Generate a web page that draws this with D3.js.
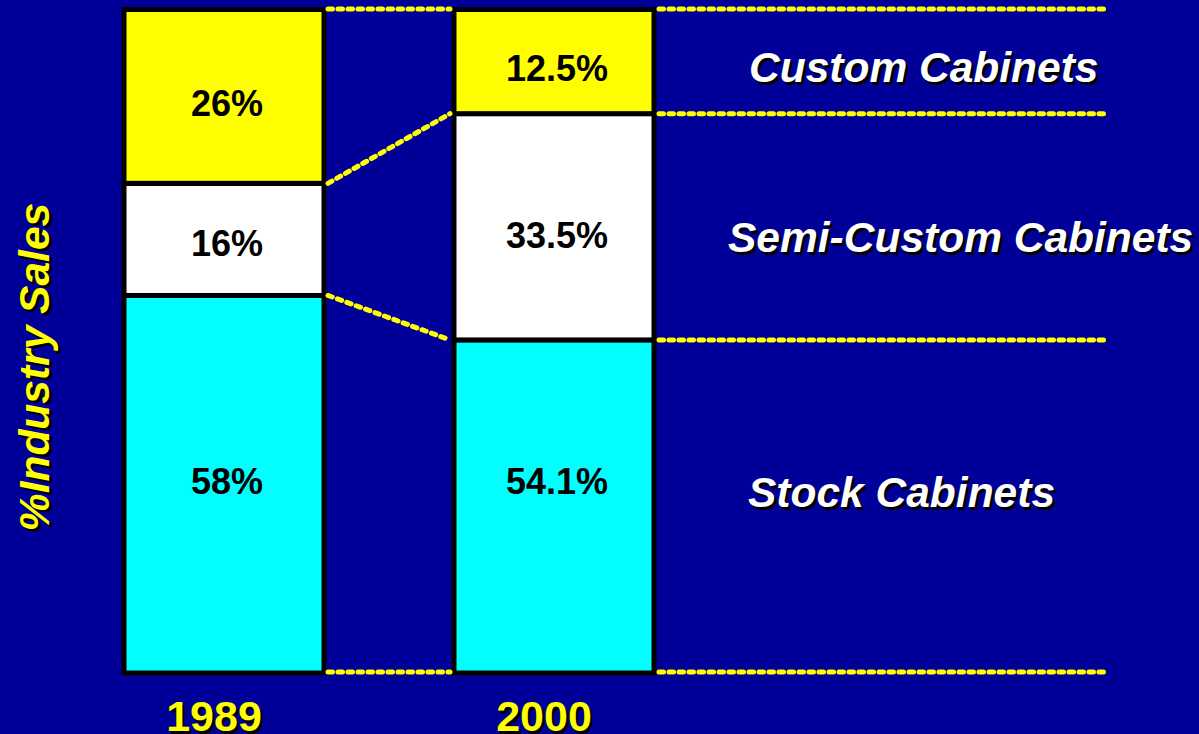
<!DOCTYPE html>
<html>
<head>
<meta charset="utf-8">
<script src="https://cdn.jsdelivr.net/npm/d3@7"></script>
<style>
  html, body { margin: 0; padding: 0; background: #000099; }
  svg { display: block; font-family: "Liberation Sans", Arial, sans-serif; }
</style>
</head>
<body>
<div id="chart-area"></div>
<script>
const chartWidth = 1199
const chartHeight = 734

// data (segment shares as drawn, bottom -> top)
const years = ["1989", "2000"]
const segments = ["Stock Cabinets", "Semi-Custom Cabinets", "Custom Cabinets"]
const shares1989 = [56.9, 16.9, 26.2]
const shares2000 = [50.2, 34.1, 15.7]
const labels1989 = ["58%", "16%", "26%"]
const labels2000 = ["54.1%", "33.5%", "12.5%"]
const segColors = ["#00ffff", "#ffffff", "#ffff00"]
const yTitle = "%Industry Sales"

const bg = "#000099"
const lineEndX = 1106
// where the right-hand names sit (left edge, baseline)
const segLabelPos = {
    "Stock Cabinets": [748, 507],
    "Semi-Custom Cabinets": [728, 252],
    "Custom Cabinets": [749, 82]
}
// nudges for the % labels off the segment middle (px)
const pctShift = {"1989": [-3, 4, 7], "2000": [-25, 8, 6]}

const svg = d3.select("#chart-area").append("svg")
    .attr("width", chartWidth)
    .attr("height", chartHeight)

svg.append("rect")
    .attr("width", chartWidth)
    .attr("height", chartHeight)
    .attr("fill", bg)

const x = d3.scaleBand()
    .domain(years)
    .range([124, 654])
    .paddingInner(130 / 330)

const y = d3.scaleLinear()
    .domain([0, 100])
    .range([673, 9.5])

// build stacks
const sharesByYear = {"1989": shares1989, "2000": shares2000}
const labelsByYear = {"1989": labels1989, "2000": labels2000}
const stacks = {}
years.forEach(yr => {
    let acc = 0
    stacks[yr] = sharesByYear[yr].map((v, i) => {
        const d = {year: yr, seg: segments[i], y0: acc, y1: acc + v, label: labelsByYear[yr][i],
                   color: segColors[i], shift: pctShift[yr][i]}
        acc += v
        return d
    })
})
const allSegs = years.flatMap(yr => stacks[yr])

// bars
svg.append("g").selectAll("rect")
    .data(allSegs)
    .join("rect")
    .attr("x", d => x(d.year))
    .attr("y", d => y(d.y1))
    .attr("width", x.bandwidth())
    .attr("height", d => y(d.y0) - y(d.y1))
    .attr("fill", d => d.color)
    .attr("stroke", "#000")
    .attr("stroke-width", 5)

// percentage labels
svg.append("g").selectAll("text")
    .data(allSegs)
    .join("text")
    .attr("x", d => x(d.year) + x.bandwidth() / 2 + 3)
    .attr("y", d => (y(d.y0) + y(d.y1)) / 2 + d.shift)
    .attr("dy", "0.36em")
    .attr("text-anchor", "middle")
    .attr("font-size", "36px")
    .attr("font-weight", "bold")
    .attr("fill", "#000")
    .text(d => d.label)

// dotted connector lines
const bounds = yr => [0].concat(stacks[yr].map(d => d.y1))
const b1 = bounds("1989"), b2 = bounds("2000")
const x1r = x("1989") + x.bandwidth() + 4
const x2l = x("2000") - 4
const x2r = x("2000") + x.bandwidth() + 5
const links = []
b1.forEach((v, i) => {
    const off = (i === b1.length - 1) ? -0.5 : (i === 0 ? -1 : 0)
    links.push({xa: x1r, ya: y(v) + off, xb: x2l, yb: y(b2[i]) + off})
    links.push({xa: x2r, ya: y(b2[i]) + off, xb: lineEndX, yb: y(b2[i]) + off})
})
svg.append("g").selectAll("line")
    .data(links)
    .join("line")
    .attr("x1", d => d.xa)
    .attr("y1", d => d.ya)
    .attr("x2", d => d.xb)
    .attr("y2", d => d.yb)
    .attr("stroke", "#ffff00")
    .attr("stroke-width", 5)
    .attr("stroke-linecap", "round")
    .attr("stroke-dasharray", "4.5,5.5")

// text with drop shadow
function shadowText(g, px, py, txt, opts) {
    const grp = g.append("g").attr("transform", `translate(${px},${py})${opts.rotate ? " rotate(" + opts.rotate + ")" : ""}`)
    const dx = opts.rotate ? -2.5 : 2.5
    const dy = 2.5
    grp.append("text")
        .attr("x", dx)
        .attr("y", dy)
        .attr("text-anchor", opts.anchor || "start")
        .attr("font-size", opts.size)
        .attr("font-weight", "bold")
        .attr("font-style", opts.italic ? "italic" : "normal")
        .attr("fill", "#000")
        .text(txt)
    grp.append("text")
        .attr("text-anchor", opts.anchor || "start")
        .attr("font-size", opts.size)
        .attr("font-weight", "bold")
        .attr("font-style", opts.italic ? "italic" : "normal")
        .attr("fill", opts.fill)
        .text(txt)
}

// segment names on the right
segments.forEach(s => {
    const p = segLabelPos[s]
    shadowText(svg, p[0], p[1], s, {size: "42.5px", italic: true, fill: "#fff"})
})

// year labels
years.forEach(yr => {
    shadowText(svg, x(yr) + x.bandwidth() / 2 - 10, 731, yr, {size: "43px", anchor: "middle", fill: "#ffff00"})
})

// y title
shadowText(svg, 49, 367, yTitle, {size: "42.5px", italic: true, anchor: "middle", fill: "#ffff00", rotate: -90})
</script>
</body>
</html>
